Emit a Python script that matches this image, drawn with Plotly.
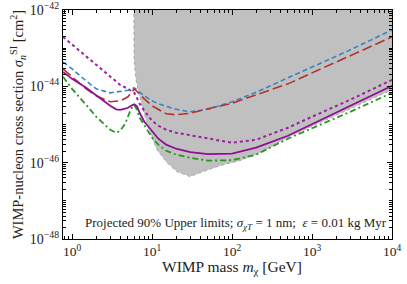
import plotly.graph_objects as go

# ---------------- data ----------------
mass_std = [0.77, 1, 1.5, 2, 3, 4, 5, 6, 6.49, 7, 8, 10, 12, 15, 20, 30, 50, 100, 200, 500, 1000, 3000, 10000]
blue_dashed = [4.37e-44, 2.87e-44, 1.39e-44, 8.6e-45, 6.76e-45, 7.18e-45, 7.86e-45, 9.14e-45, 8.0e-45, 6.76e-45,
               5.65e-45, 4.18e-45, 3.49e-45, 3.00e-45, 2.50e-45, 2.15e-45, 2.50e-45, 3.94e-45, 6.97e-45,
               1.67e-44, 3.24e-44, 9.0e-44, 3.00e-43]
red_longdash = [2.87e-44, 1.77e-44, 8.6e-45, 5.65e-45, 3.94e-45, 4.18e-45, 5.31e-45, 8.6e-45, 7.3e-45, 6.0e-45,
                4.71e-45, 3.09e-45, 2.43e-45, 1.91e-45, 1.80e-45, 1.97e-45, 2.58e-45, 3.60e-45, 6.0e-45,
                1.16e-44, 2.25e-44, 6.27e-44, 1.97e-43]
purple_dotted = [1.97e-43, 1.25e-43, 6.12e-44, 3.69e-44, 1.82e-44, 1.09e-44, 8.6e-45, 6.76e-45, 4.9e-45, 3.49e-45,
                 2.29e-45, 1.25e-45, 9.27e-46, 7.30e-46, 6.09e-46, 5.24e-46, 4.24e-46, 3.33e-46, 3.99e-46,
                 8.22e-46, 1.60e-45, 4.44e-45, 1.48e-44]

mass_fine = [0.77, 1, 1.5, 2, 3, 3.55, 4, 4.6, 5, 5.46, 6, 6.49, 7, 8, 10, 12, 15, 20, 30, 50, 100, 200, 500, 1000, 3000, 10000]
purple_solid = [2.39e-44, 1.57e-44, 9.14e-45, 5.82e-45, 3.09e-45, 2.50e-45, 2.43e-45, 2.6e-45, 2.74e-45, 3.09e-45,
                3.38e-45, 3.00e-45, 2.03e-45, 1.18e-45, 6.46e-46, 4.24e-46, 2.96e-46, 2.32e-46, 1.88e-46,
                1.67e-46, 1.72e-46, 2.47e-46, 5.08e-46, 1.02e-45, 3.09e-45, 1.03e-44]
green_dashdot = [1.77e-44, 8.6e-45, 3.28e-45, 1.60e-45, 7.30e-46, 6.09e-46, 6.87e-46, 1.05e-45, 1.60e-45, 2.58e-45,
                 3.28e-45, 2.43e-45, 1.50e-45, 9.27e-46, 4.51e-46, 2.96e-46, 2.06e-46, 1.62e-46, 1.35e-46,
                 1.13e-46, 1.16e-46, 1.62e-46, 4.24e-46, 7.98e-46, 2.15e-45, 6.76e-45]

# excluded (grey) region lower boundary
excl_mass = [5.9, 5.96, 6.31, 6.68, 7.71, 9.44, 11.5, 15.4, 20.5, 29.9, 43.3, 70.8, 125.9, 224, 531, 2239, 10000]
excl_xsec = [1e-41, 4.93e-44, 1.48e-44, 8.09e-45, 2.43e-45, 6.09e-46, 2.19e-46, 1.0e-46, 5.82e-47, 4.31e-47,
             5.82e-47, 8.35e-47, 1.13e-46, 1.82e-46, 4.93e-46, 1.91e-45, 8.09e-45]
excl_top = 1e-41

x_ticks = [1, 10, 100, 1000, 10000]
x_ticktext = ["10<sup>0</sup>", "10<sup>1</sup>", "10<sup>2</sup>", "10<sup>3</sup>", "10<sup>4</sup>"]
y_ticks = [1e-48, 1e-46, 1e-44, 1e-42]
y_ticktext = ["10<sup>−48</sup>", "10<sup>−46</sup>", "10<sup>−44</sup>", "10<sup>−42</sup>"]

FONT = "Liberation Serif"

fig = go.Figure()

# grey excluded region: top edge then lower boundary, filled between
fig.add_trace(go.Scatter(x=excl_mass, y=[excl_top] * len(excl_mass), mode="lines",
                         line=dict(width=0, color="rgba(0,0,0,0)"), showlegend=False, hoverinfo="skip"))
fig.add_trace(go.Scatter(x=excl_mass, y=excl_xsec, mode="lines", fill="tonexty",
                         fillcolor="#c0c0c0", line=dict(color="#a8a8a8", width=1, dash="dot"),
                         showlegend=False, hoverinfo="skip"))

fig.add_trace(go.Scatter(x=mass_std, y=purple_dotted, mode="lines",
                         line=dict(color="#9b1fa0", width=2, dash="dot"), showlegend=False))
fig.add_trace(go.Scatter(x=mass_std, y=blue_dashed, mode="lines",
                         line=dict(color="#3586c0", width=1.6, dash="5px,3px"), showlegend=False))
fig.add_trace(go.Scatter(x=mass_std, y=red_longdash, mode="lines",
                         line=dict(color="#b3312e", width=1.6, dash="10px,4px"), showlegend=False))
fig.add_trace(go.Scatter(x=mass_fine, y=green_dashdot, mode="lines",
                         line=dict(color="#2a9424", width=1.8, dash="6px,3px,2px,3px"), showlegend=False))
fig.add_trace(go.Scatter(x=mass_fine, y=purple_solid, mode="lines",
                         line=dict(color="#8f0f96", width=1.8), showlegend=False))

x_minor = [k * 10 ** n for n in range(-1, 4) for k in range(2, 10)]
y_minor = [k * 10.0 ** n for n in range(-49, -41) for k in range(1, 10)]

fig.update_xaxes(type="log", range=[-0.1135, 4], tickvals=x_ticks, ticktext=x_ticktext,
                 ticks="inside", ticklen=5, tickwidth=1, tickcolor="black",
                 minor=dict(tickvals=x_minor, ticks="inside", ticklen=2.5, tickcolor="black"),
                 showline=True, linecolor="black", linewidth=1.2, mirror="ticks",
                 showgrid=False, zeroline=False, automargin=False,
                 tickfont=dict(family=FONT, size=13.5, color="#222"))
fig.update_yaxes(type="log", range=[-48, -42], tickvals=y_ticks, ticktext=y_ticktext,
                 ticks="inside", ticklen=5, tickwidth=1, tickcolor="black",
                 minor=dict(tickvals=y_minor, ticks="inside", ticklen=2.5, tickcolor="black"),
                 showline=True, linecolor="black", linewidth=1.2, mirror="ticks",
                 showgrid=False, zeroline=False, automargin=False,
                 tickfont=dict(family=FONT, size=14, color="#222"),
                 title=dict(text="WIMP-nucleon cross section <i>σ</i><sub><i>n</i></sub><sup>SI</sup> [cm<sup>2</sup>]",
                            font=dict(family=FONT, size=14.5, color="#222"), standoff=2))

# x-axis title placed as a paper annotation for exact vertical placement
fig.add_annotation(x=0.5, y=-0.125, xref="paper", yref="paper", xanchor="center", yanchor="middle",
                   text="WIMP mass <i>m</i><sub>χ</sub> [GeV]", showarrow=False, xshift=4,
                   font=dict(family=FONT, size=15.5, color="#222"))

fig.add_annotation(x=1, y=0.02, xref="paper", yref="paper", xanchor="right", yanchor="bottom",
                   text="Projected 90% Upper limits; <i>σ</i><sub><i>χT</i></sub> = 1 nm;  <i>ε</i> = 0.01 kg Myr",
                   showarrow=False, font=dict(family=FONT, size=13, color="#222"), xshift=-3)

fig.update_layout(width=407, height=284, margin=dict(l=63, r=15, t=10, b=45),
                  paper_bgcolor="white", plot_bgcolor="white")

fig.write_html("out.html", config={"displayModeBar": False},
               post_script="document.body.style.margin='0';document.body.style.overflow='hidden';")
